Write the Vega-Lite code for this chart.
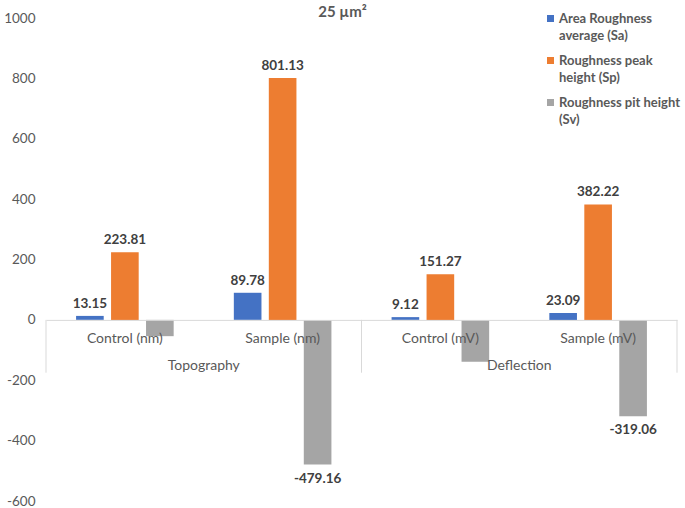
{
  "$schema": "https://vega.github.io/schema/vega-lite/v6.json",
  "width": 631,
  "height": 483,
  "autosize": {"type": "none"},
  "padding": {"left": 46, "top": 18, "right": 8, "bottom": 7},
  "background": "white",
  "config": {
    "view": {"stroke": null},
    "font": "Lato",
    "locale": {"number": {"decimal": ".", "thousands": ",", "grouping": [3], "currency": ["$", ""], "minus": "-"}},
    "style": {"guide-label": {"lineHeight": 17}}
  },
  "title": {"text": "25 µm²", "fontSize": 15, "fontWeight": "bold", "color": "#595959", "font": "Lato", "offset": -9, "dx": -19, "anchor": "middle", "frame": "group"},
  "datasets": {
    "bars": [
      {"cat": "Control  (nm)", "series": "Area Roughness average (Sa)", "value": 13.15},
      {"cat": "Control  (nm)", "series": "Roughness peak height (Sp)", "value": 223.81},
      {"cat": "Control  (nm)", "series": "Roughness pit height (Sv)", "value": -54},
      {"cat": "Sample (nm)", "series": "Area Roughness average (Sa)", "value": 89.78},
      {"cat": "Sample (nm)", "series": "Roughness peak height (Sp)", "value": 801.13},
      {"cat": "Sample (nm)", "series": "Roughness pit height (Sv)", "value": -479.16},
      {"cat": "Control  (mV)", "series": "Area Roughness average (Sa)", "value": 9.12},
      {"cat": "Control  (mV)", "series": "Roughness peak height (Sp)", "value": 151.27},
      {"cat": "Control  (mV)", "series": "Roughness pit height (Sv)", "value": -139},
      {"cat": "Sample (mV)", "series": "Area Roughness average (Sa)", "value": 23.09},
      {"cat": "Sample (mV)", "series": "Roughness peak height (Sp)", "value": 382.22},
      {"cat": "Sample (mV)", "series": "Roughness pit height (Sv)", "value": -319.06}
    ],
    "groups": [
      {"cat": "Control  (nm)", "group": "Topography"},
      {"cat": "Control  (mV)", "group": "Deflection"}
    ]
  },
  "layer": [
    {
      "data": {"values": [{"cat": "Control  (nm)"}, {"cat": "Control  (mV)"}]},
      "mark": {"type": "rule", "color": "#D9D9D9", "strokeWidth": 1},
      "encoding": {
        "x": {"field": "cat", "type": "nominal", "bandPosition": 0},
        "y": {"datum": 0, "type": "quantitative"},
        "y2": {"datum": -175}
      }
    },
    {
      "data": {"values": [{"cat": "Sample (mV)"}]},
      "mark": {"type": "rule", "color": "#D9D9D9", "strokeWidth": 1},
      "encoding": {
        "x": {"field": "cat", "type": "nominal", "bandPosition": 1},
        "y": {"datum": 0, "type": "quantitative"},
        "y2": {"datum": -175}
      }
    },
    {
      "data": {"name": "bars"},
      "mark": {"type": "bar"},
      "encoding": {
        "x": {
          "field": "cat", "type": "nominal",
          "scale": {"domain": ["Control  (nm)", "Sample (nm)", "Control  (mV)", "Sample (mV)"], "paddingInner": 0, "paddingOuter": 0},
          "axis": {"title": null, "offset": -181.125, "zindex": 1, "bandPosition": 0.5, "labelAlign": "center", "labelAngle": 0, "ticks": false, "domainColor": "#D9D9D9", "labelFont": "Lato", "labelFontSize": 14, "labelColor": "#595959", "labelPadding": 19}
        },
        "xOffset": {
          "field": "series", "type": "nominal",
          "scale": {"domain": ["Area Roughness average (Sa)", "Roughness peak height (Sp)", "Roughness pit height (Sv)"], "paddingInner": 0.21, "paddingOuter": 0.86}
        },
        "y": {
          "field": "value", "type": "quantitative",
          "scale": {"domain": [-600, 1000], "nice": false},
          "axis": {"title": null, "grid": false, "domain": false, "ticks": false, "format": "d", "values": [-600, -400, -200, 0, 200, 400, 600, 800, 1000], "labelPadding": 11, "labelFont": "Lato", "labelFontSize": 13.5, "labelColor": "#595959"}
        },
        "color": {
          "field": "series", "type": "nominal",
          "scale": {"domain": ["Area Roughness average (Sa)", "Roughness peak height (Sp)", "Roughness pit height (Sv)"], "range": ["#4472C4", "#ED7D31", "#A5A5A5"]},
          "legend": {
            "title": null, "orient": "none", "legendX": 498, "legendY": -6,
            "symbolType": "square", "symbolSize": 49, "symbolStrokeWidth": 0,
            "labelFont": "Lato", "labelFontSize": 13, "labelFontWeight": "bold", "labelColor": "#595959",
            "labelLimit": 250, "rowPadding": 11, "labelBaseline": "middle", "labelOffset": 2,
            "labelExpr": "datum.label == 'Area Roughness average (Sa)' ? ['Area Roughness', 'average (Sa)'] : datum.label == 'Roughness peak height (Sp)' ? ['Roughness peak', 'height (Sp)'] : ['Roughness pit height', '(Sv)']"
          }
        }
      }
    },
    {
      "data": {"name": "bars"},
      "transform": [{"filter": "datum.value >= 0"}],
      "mark": {"type": "text", "baseline": "middle", "dy": -12, "fontWeight": "bold", "fontSize": 13.5, "font": "Lato", "color": "#404040"},
      "encoding": {
        "x": {"field": "cat", "type": "nominal"},
        "xOffset": {"field": "series", "type": "nominal"},
        "y": {"field": "value", "type": "quantitative"},
        "text": {"field": "value", "type": "quantitative", "format": ".2f"}
      }
    },
    {
      "data": {"name": "bars"},
      "transform": [{"filter": "datum.value < -200"}],
      "mark": {"type": "text", "baseline": "middle", "dy": 14, "fontWeight": "bold", "fontSize": 13.5, "font": "Lato", "color": "#404040"},
      "encoding": {
        "x": {"field": "cat", "type": "nominal"},
        "xOffset": {"field": "series", "type": "nominal"},
        "y": {"field": "value", "type": "quantitative"},
        "text": {"field": "value", "type": "quantitative", "format": ".2f"}
      }
    },
    {
      "data": {"name": "groups"},
      "mark": {"type": "text", "baseline": "middle", "fontSize": 14, "font": "Lato", "color": "#595959"},
      "encoding": {
        "x": {"field": "cat", "type": "nominal", "bandPosition": 1},
        "y": {"datum": -153, "type": "quantitative"},
        "text": {"field": "group", "type": "nominal"}
      }
    }
  ]
}
